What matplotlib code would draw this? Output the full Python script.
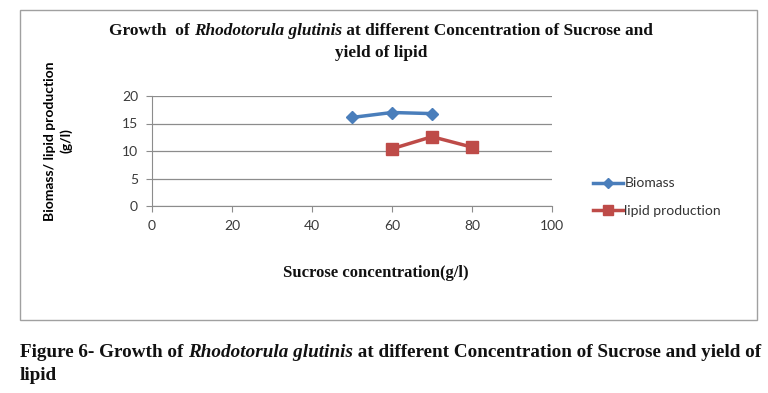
import matplotlib
matplotlib.use("Agg")
import matplotlib.pyplot as plt
from matplotlib.patches import Rectangle
from matplotlib.lines import Line2D

# data
biomass_x = [50, 60, 70]
biomass_y = [16.1, 17.0, 16.8]
lipid_x = [60, 70, 80]
lipid_y = [10.4, 12.6, 10.7]
x_ticks = [0, 20, 40, 60, 80, 100]
y_ticks = [0, 5, 10, 15, 20]

W, H = 768, 393
fig = plt.figure(figsize=(W / 100, H / 100), dpi=100)
fig.patch.set_facecolor("white")


def px(x, y):
    return x / W, 1 - y / H


def mixed_text(x, y, pieces, size, ha="center"):
    """Draw text pieces (text, style) side by side, measured with the renderer."""
    r = fig.canvas.get_renderer()
    arts = []
    for s, style in pieces:
        t = fig.text(0, 0, s, fontsize=size, fontweight="bold", style=style,
                     family="Liberation Serif", color="#111111", va="baseline")
        arts.append(t)
    widths = [a.get_window_extent(renderer=r).width for a in arts]
    total = sum(widths)
    start = x - total / 2 if ha == "center" else x
    for a, w in zip(arts, widths):
        fx, fy = px(start, y)
        a.set_position((fx, fy))
        start += w


# outer chart border
fig.patches.append(Rectangle(px(20, 320), 737 / W, 310 / H, transform=fig.transFigure,
                             fill=False, edgecolor="#a0a0a0", linewidth=1.0))

ax = fig.add_axes([152 / W, 1 - 206 / H, 400 / W, 110 / H])
blue = "#4A7EBB"
red = "#BE4B48"
ax.plot(biomass_x, biomass_y, color=blue, marker="D", markersize=6, linewidth=2.5, label="Biomass")
ax.plot(lipid_x, lipid_y, color=red, marker="s", markersize=8, linewidth=2.5, label="lipid production")
ax.set_xlim(0, 100)
ax.set_ylim(0, 20)
ax.set_xticks(x_ticks)
ax.set_yticks(y_ticks)
ax.grid(axis="y", color="#8c8c8c", linewidth=0.9)
ax.set_axisbelow(True)
for side in ["top", "right"]:
    ax.spines[side].set_visible(False)
ax.spines["left"].set_color("#8c8c8c")
ax.spines["bottom"].set_color("#8c8c8c")
ax.tick_params(axis="x", length=4, color="#8c8c8c", labelsize=10, labelcolor="#3a3a3a", pad=6)
ax.tick_params(axis="y", length=4, color="#8c8c8c", labelsize=10, labelcolor="#3a3a3a", pad=6)
for lab in ax.get_xticklabels() + ax.get_yticklabels():
    lab.set_family("Lato")

fig.text(*px(376, 273), "Sucrose concentration(g/l)", ha="center", va="center",
         fontsize=12, fontweight="bold", family="Liberation Serif", color="#111111")
fig.text(*px(58, 141), "Biomass/ lipid production\n(g/l)", ha="center", va="center",
         rotation=90, fontsize=10, fontweight="bold", family="Lato",
         linespacing=1.35)

handles = [Line2D([], [], color=blue, marker="D", markersize=5, linewidth=2.5),
           Line2D([], [], color=red, marker="s", markersize=7, linewidth=2.5)]
fig.legend(handles, ["Biomass", "lipid production"], loc="center left",
           bbox_to_anchor=px(580, 197), frameon=False, handlelength=2.2,
           handletextpad=0.1, labelspacing=1.1,
           prop={"family": "Lato", "size": 10}, labelcolor="#333333")

mixed_text(381, 35, [("Growth  of ", "normal"), ("Rhodotorula glutinis", "italic"),
                     (" at different Concentration of Sucrose and", "normal")], 12.4)
mixed_text(381, 57, [("yield of lipid", "normal")], 12.4)

mixed_text(20, 357, [("Figure 6- Growth of ", "normal"), ("Rhodotorula glutinis", "italic"),
                     (" at different Concentration of Sucrose and yield of", "normal")],
           13.8, ha="left")
mixed_text(20, 380, [("lipid", "normal")], 13.8, ha="left")

fig.savefig("out.png", dpi=100)
